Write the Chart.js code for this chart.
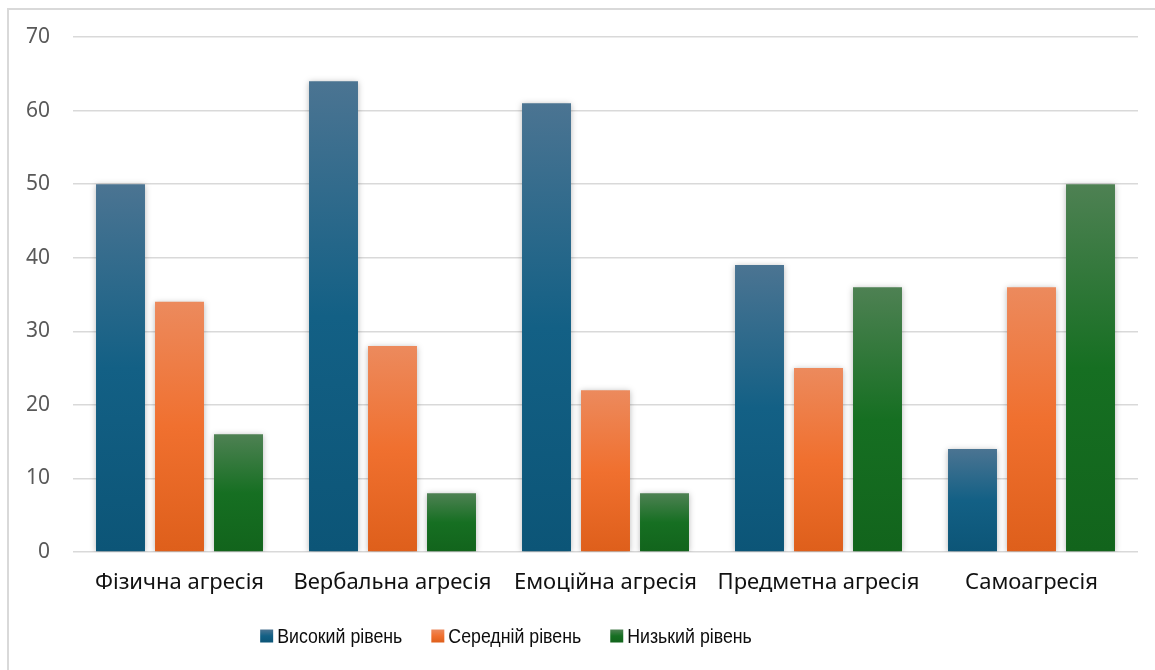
<!DOCTYPE html>
<html lang="uk">
<head>
<meta charset="utf-8">
<script src="https://cdn.jsdelivr.net/npm/chart.js@4.4.1/dist/chart.umd.min.js"></script>
<style>
  html, body { margin: 0; padding: 0; background: #ffffff; }
  #wrap { position: relative; width: 1155px; height: 670px; overflow: hidden; }
  #frame { position: absolute; left: 7px; top: 8px; right: 0; bottom: 0;
           border-top: 2px solid #d9d9d9; border-left: 2px solid #d9d9d9; }
  #chart { position: absolute; left: 0; top: 0; }
</style>
</head>
<body>
<div id="wrap">
  <div id="frame"></div>
  <canvas id="chart" width="1155" height="670"></canvas>
</div>
<script>
// Види агресії за рівнями прояву, %
const categories = ['Фізична агресія', 'Вербальна агресія', 'Емоційна агресія', 'Предметна агресія', 'Самоагресія'];
const highLevel   = [50, 64, 61, 39, 14];
const middleLevel = [34, 28, 22, 25, 36];
const lowLevel    = [16, 8, 8, 36, 50];
const seriesNames = ['Високий рівень', 'Середній рівень', 'Низький рівень'];
const yTicks = [0, 10, 20, 30, 40, 50, 60, 70];

// top / middle / bottom shades of each series
const palettes = [
  ['#4b7492', '#136085', '#0c5577'],
  ['#ec8a5d', '#f0702f', '#de5f1b'],
  ['#4e8153', '#166f22', '#12641c']
];

function shadeGradient(c, p, top, bottom) {
  const g = c.createLinearGradient(0, top, 0, bottom);
  g.addColorStop(0, p[0]);
  g.addColorStop(0.5, p[1]);
  g.addColorStop(1, p[2]);
  return g;
}

function barFill(p) {
  return function (ctx) {
    if (ctx.type !== 'data') return p[1];
    const chart = ctx.chart;
    const y = chart.scales && chart.scales.y;
    if (!y || !chart.chartArea) return p[1];
    const top = y.getPixelForValue(ctx.raw);
    const base = y.getPixelForValue(0);
    if (!isFinite(top) || !isFinite(base) || base - top < 1) return p[1];
    return shadeGradient(chart.ctx, p, top, base);
  };
}

const barShadow = {
  id: 'barShadow',
  beforeDatasetsDraw(chart) {
    const c = chart.ctx;
    c.save();
    c.shadowColor = 'rgba(0,0,0,0.28)';
    c.shadowBlur = 6;
    c.shadowOffsetX = 0;
    c.shadowOffsetY = 1;
  },
  afterDatasetsDraw(chart) {
    chart.ctx.restore();
  }
};

// compact legend row under the axis labels, condensed lettering
const LEGEND_FONT = '21px "Liberation Sans", Arial, sans-serif';
const LEGEND_SQUEEZE = 0.845;
const legendRow = {
  id: 'legendRow',
  afterDraw(chart) {
    const c = chart.ctx;
    const box = 13, gap = 4, itemGap = 29, centerX = 506, midY = 636;
    c.save();
    c.font = LEGEND_FONT;
    c.textBaseline = 'middle';
    c.textAlign = 'left';
    const items = chart.data.datasets.map((d, i) => ({
      label: d.label, w: c.measureText(d.label).width * LEGEND_SQUEEZE, p: palettes[i]
    }));
    const total = items.reduce((s, it) => s + box + gap + it.w, 0) + itemGap * (items.length - 1);
    let x = centerX - total / 2;
    items.forEach(it => {
      c.fillStyle = shadeGradient(c, it.p, midY - box / 2, midY + box / 2);
      c.fillRect(x, midY - box / 2, box, box);
      c.save();
      c.translate(x + box + gap, midY + 1);
      c.scale(LEGEND_SQUEEZE, 1);
      c.fillStyle = '#0d0d0d';
      c.fillText(it.label, 0, 0);
      c.restore();
      x += box + gap + it.w + itemGap;
    });
    c.restore();
  }
};

const series = [highLevel, middleLevel, lowLevel];

new Chart(document.getElementById('chart'), {
  type: 'bar',
  data: {
    labels: categories,
    datasets: series.map((vals, i) => ({
      label: seriesNames[i],
      data: vals,
      backgroundColor: barFill(palettes[i]),
      borderWidth: 0,
      categoryPercentage: 0.831,
      barPercentage: 0.83
    }))
  },
  options: {
    responsive: false,
    animation: false,
    devicePixelRatio: 1,
    layout: { padding: { top: 37, right: 17, bottom: 73, left: 0 } },
    plugins: {
      tooltip: { enabled: false },
      legend: { display: false }
    },
    scales: {
      x: {
        grid: { display: false, drawTicks: false },
        border: { display: false },
        ticks: {
          color: '#111111',
          padding: 18,
          font: { family: '"Noto Sans", sans-serif', size: 22 },
          maxRotation: 0
        },
        afterFit(s) { s.height = 45; }
      },
      y: {
        min: 0,
        max: 70,
        afterBuildTicks(s) { s.ticks = yTicks.map(v => ({ value: v })); },
        grid: { color: '#d9d9d9', lineWidth: 1.5, drawTicks: false },
        border: { display: false },
        ticks: {
          color: '#595959',
          padding: 23,
          font: { family: '"Noto Sans", sans-serif', size: 21 }
        },
        afterFit(s) { s.width = 73; }
      }
    }
  },
  plugins: [barShadow, legendRow]
});
</script>
</body>
</html>
